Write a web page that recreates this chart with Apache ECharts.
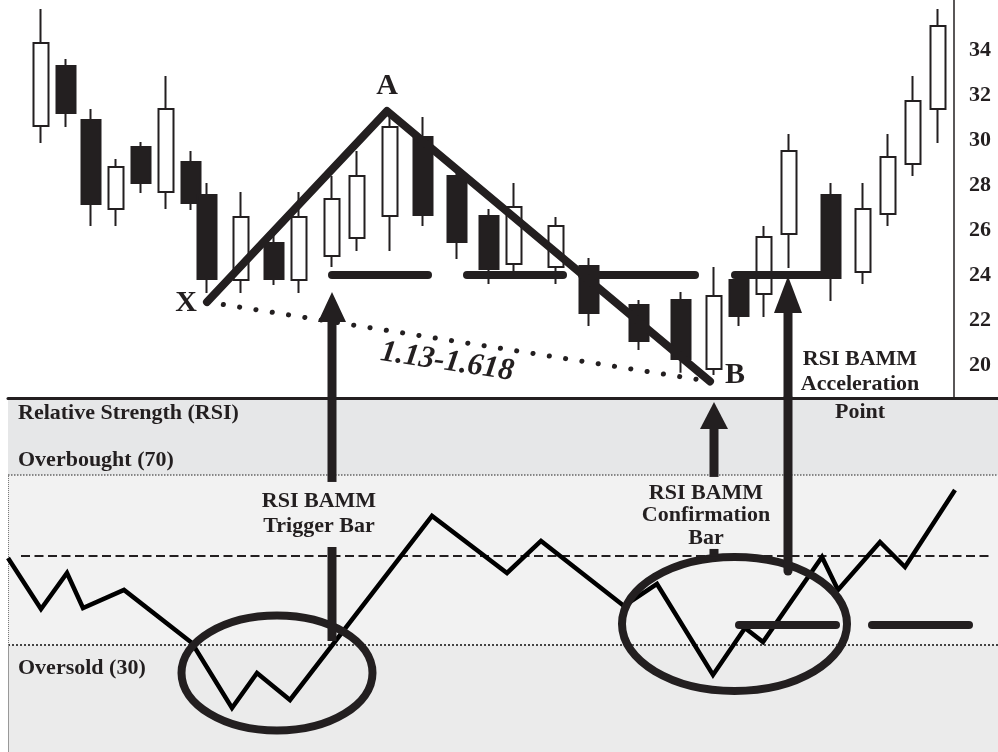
<!DOCTYPE html>
<html><head><meta charset="utf-8">
<script src="https://cdn.jsdelivr.net/npm/echarts@6/dist/echarts.min.js"></script>
<style>html,body{margin:0;padding:0;background:#fff}#c{width:998px;height:752px}</style>
</head><body><div id="c"></div>
<script>
// ---------- price panel data (x = session position) ----------
const candleX     = [1.0,2.0,3.0,4.0,5.0,6.0,7.0,7.64,9.0,10.32,11.32,12.64,13.64,14.96,16.28,17.64,18.92,19.92,21.6,22.92,24.92,26.6,27.92,28.92,29.92,30.92,32.6,33.88,34.88,35.88,36.88];
const candleOpen  = [30.62,33.29,30.89,26.93,29.69,27.69,29.02,27.56,23.78,25.42,23.78,24.84,25.64,26.62,30.13,28.4,26.62,24.49,24.36,24.4,22.67,22.89,19.82,23.78,23.16,25.82,27.56,24.13,26.71,28.93,31.38];
const candleClose = [34.31,31.2,27.16,28.8,28.09,31.38,27.2,23.82,26.58,23.82,26.58,27.38,28.4,30.58,26.67,25.47,24.27,27.02,26.18,22.31,21.07,20.27,23.07,22.18,25.69,29.51,23.87,26.93,29.24,31.73,35.07];
const candleLow   = [29.87,30.58,26.18,26.18,27.64,26.93,26.89,23.2,23.2,23.56,23.2,24.36,25.07,25.07,26.18,24.71,23.6,24.09,23.6,21.73,20.67,19.65,19.56,21.73,22.13,24.31,22.84,23.6,26.18,28.4,29.87];
const candleHigh  = [35.82,33.6,31.38,29.16,29.91,32.84,29.51,28.09,27.69,25.9,27.69,28.4,29.51,31.1,31.02,28.6,26.93,28.09,26.58,24.76,22.89,23.24,24.36,23.9,26.18,30.27,28.09,28.09,30.27,32.84,35.82];
const priceTicks  = [20,22,24,26,28,30,32,34];
const priceMin = 18.533, priceMax = 36.222;

// X-A-B pattern points
const xabNames = ['X','A','B'];
const xabX = [7.64, 14.84, 27.76];
const xabV = [22.8, 31.29, 19.27];

// ---------- RSI panel data ----------
const rsiX = [-0.32,1.0,2.04,2.68,4.32,7.04,8.64,9.64,10.96,16.64,19.64,21.0,24.32,25.64,27.88,29.16,29.88,32.24,32.88,34.56,35.56,37.56];
const rsiV = [50.47,38.47,46.94,38.71,42.94,30.47,15.18,23.41,17.06,60.35,46.94,54.47,39.18,44.35,22.94,34.0,30.71,50.71,42.94,54.24,48.35,66.47];
const rsiMin = 4.82, rsiMax = 88.1;
const overbought = 70, oversold = 30, midLevel = 51;

// ---------- annotations (data coordinates) ----------
const priceBars = [[12.64,24,16.48,24],[18.04,24,21.88,24],[22.64,24,27.16,24],[28.76,24,32.68,24]];
const rsiBars   = [[28.92,34.7,32.8,34.7],[34.24,34.7,38.12,34.7]];
const priceShafts = [[12.64,priceMin,12.64,22.0],[30.88,priceMin,30.88,22.4]];
const priceHeads  = [[12.64,21.91,23.24],[30.88,22.31,23.96]];
const rsiShafts   = [[12.64,rsiMax,12.64,68.35],[12.64,53.06,12.64,30.94],[27.92,69.53,27.92,81.2],[27.92,52.59,27.92,50.71]];
const rsiRoundShafts = [[30.88,rsiMax,30.88,47.4]];
const rsiHeads    = [[27.92,80.82,87.18]];
const ellipses    = [[10.44,23.41,3.82,13.53],[28.74,34.94,4.5,15.76]];

const INK = '#231f20';
const SERIF = '"Liberation Serif","Times New Roman",serif';

const priceTexts = [
  {x:6.8,  y:22.76, text:'X', size:30},
  {x:14.84,y:32.4,  text:'A', size:30},
  {x:28.76,y:19.56, text:'B', size:30},
  {x:17.24,y:20.13, text:'1.13-1.618', size:31, italic:true, rotate:-8.5},
  {x:33.76,y:19.71, text:'RSI BAMM\nAcceleration', size:22, lh:25}
];
const rsiTexts = [
  {x:33.76,y:84.82, text:'Point', size:22},
  {x:12.12,y:60.94, text:'RSI BAMM\nTrigger Bar', size:22, lh:25},
  {x:27.6, y:60.47, text:'RSI BAMM\nConfirmation\nBar', size:22, lh:22.5},
  {x:0.08, y:84.59, text:'Relative Strength (RSI)', size:22, left:true},
  {x:0.08, y:73.53, text:'Overbought (70)', size:22, left:true},
  {x:0.08, y:24.59, text:'Oversold (30)', size:22, left:true}
];

function segSeries(grid, data, width, cap, z) {
  return {type:'custom', xAxisIndex:grid, yAxisIndex:grid, z:z, silent:true, clip:false, data:data,
    renderItem:function(p, api){
      const a = api.coord([api.value(0), api.value(1)]);
      const b = api.coord([api.value(2), api.value(3)]);
      return {type:'line', shape:{x1:a[0],y1:a[1],x2:b[0],y2:b[1]},
        style:{stroke:INK, lineWidth:width, lineCap:cap, fill:null}};
    }};
}
function headSeries(grid, data, z) {
  return {type:'custom', xAxisIndex:grid, yAxisIndex:grid, z:z, silent:true, clip:false, data:data,
    renderItem:function(p, api){
      const b = api.coord([api.value(0), api.value(1)]);
      const t = api.coord([api.value(0), api.value(2)]);
      return {type:'polygon', shape:{points:[[t[0],t[1]],[b[0]-14,b[1]],[b[0]+14,b[1]]]},
        style:{fill:INK, stroke:null}};
    }};
}
function textSeries(grid, items, z) {
  return {type:'custom', xAxisIndex:grid, yAxisIndex:grid, z:z, silent:true, clip:false,
    data: items.map(function(t){ return [t.x, t.y]; }),
    renderItem:function(p, api){
      const t = items[p.dataIndex];
      const c = api.coord([api.value(0), api.value(1)]);
      return {type:'text', x:c[0], y:c[1], rotation:(t.rotate || 0) * Math.PI / 180,
        style:{text:t.text, fill:INK,
          font:(t.italic ? 'italic ' : '') + 'bold ' + t.size + 'px ' + SERIF,
          lineHeight:t.lh || Math.round(t.size*1.15),
          align: t.left ? 'left' : 'center', verticalAlign:'middle'}};
    }};
}

const upData = [], downData = [];
for (let i = 0; i < candleX.length; i++) {
  const row = [candleX[i], candleOpen[i], candleClose[i], candleLow[i], candleHigh[i]];
  (candleClose[i] >= candleOpen[i] ? upData : downData).push(row);
}

const chart = echarts.init(document.getElementById('c'), null, {renderer:'canvas'});
chart.setOption({
  animation:false,
  backgroundColor:'#ffffff',
  grid:[
    {left:16, right:44, top:0, height:398},
    {left:8, right:0, top:398, bottom:0}
  ],
  xAxis:[
    {type:'value', gridIndex:0, min:0, max:37.52, show:false},
    {type:'value', gridIndex:1, min:-0.32, max:39.28, position:'top', z:10,
     axisLine:{show:true, onZero:false, lineStyle:{color:INK, width:3}},
     axisTick:{show:false}, axisLabel:{show:false}, splitLine:{show:false}}
  ],
  yAxis:[
    {type:'value', gridIndex:0, position:'right', min:priceMin, max:priceMax, z:10,
     axisLine:{show:true, onZero:false, lineStyle:{color:INK, width:1.5}},
     axisTick:{show:false}, splitLine:{show:false},
     axisLabel:{customValues:priceTicks, margin:15, fontSize:22, fontWeight:'bold', fontFamily:SERIF, color:INK}},
    {type:'value', gridIndex:1, min:rsiMin, max:rsiMax, show:false}
  ],
  series:[
    {type:'line', xAxisIndex:1, yAxisIndex:1, z:3, silent:true, symbol:'none',
     data: rsiX.map(function(x,i){return [x, rsiV[i]];}),
     lineStyle:{color:'#000', width:4.5, join:'miter'},
     markArea:{silent:true, z:0, data:[
       [{yAxis:overbought, itemStyle:{color:'#e6e7e8'}}, {yAxis:rsiMax}],
       [{yAxis:oversold, itemStyle:{color:'#f2f2f2'}}, {yAxis:overbought}],
       [{yAxis:rsiMin, itemStyle:{color:'#ebebeb'}}, {yAxis:oversold}]
     ]},
     markLine:{silent:true, z:1, symbol:'none', label:{show:false}, data:[
       {yAxis:overbought, lineStyle:{type:'dotted', color:'#666', width:1.5}},
       {yAxis:oversold, lineStyle:{type:'dotted', color:'#444', width:2}},
       [{coord:[0.2, midLevel], lineStyle:{type:[9,4.5], color:INK, width:2}}, {coord:[39.08, midLevel]}],
       [{coord:[-0.3, rsiMin], lineStyle:{type:'solid', color:'#999', width:1}}, {coord:[-0.3, oversold]}],
       [{coord:[-0.3, oversold], lineStyle:{type:'dotted', color:'#777', width:1}}, {coord:[-0.3, overbought]}]
     ]}},
    {type:'custom', xAxisIndex:1, yAxisIndex:1, z:4, silent:true, clip:false, data:ellipses,
     renderItem:function(p, api){
       const c = api.coord([api.value(0), api.value(1)]);
       const e = api.coord([api.value(0)+api.value(2), api.value(1)+api.value(3)]);
       return {type:'ellipse', shape:{cx:c[0], cy:c[1], rx:Math.abs(e[0]-c[0]), ry:Math.abs(e[1]-c[1])},
         style:{fill:'none', stroke:INK, lineWidth:8}};
     }},
    segSeries(1, rsiBars, 8, 'round', 4),
    segSeries(1, rsiShafts, 9, 'butt', 4),
    segSeries(1, rsiRoundShafts, 9, 'round', 4),
    headSeries(1, rsiHeads, 4),
    textSeries(1, rsiTexts, 5),

    {type:'candlestick', xAxisIndex:0, yAxisIndex:0, z:2, silent:true, barWidth:16,
     encode:{x:0, y:[1,2,3,4]}, data:upData,
     itemStyle:{color:'#fff', color0:'#fff', borderColor:INK, borderColor0:INK, borderWidth:2}},
    {type:'candlestick', xAxisIndex:0, yAxisIndex:0, z:2, silent:true, barWidth:19,
     encode:{x:0, y:[1,2,3,4]}, data:downData,
     itemStyle:{color:INK, color0:INK, borderColor:INK, borderColor0:INK, borderWidth:2}},
    {type:'line', xAxisIndex:0, yAxisIndex:0, z:3, silent:true, symbol:'none',
     data:[[xabX[0], xabV[0]],[xabX[2], xabV[2]]],
     lineStyle:{color:INK, width:5, type:[0.1,16.4], cap:'round'}},
    {type:'line', xAxisIndex:0, yAxisIndex:0, z:3, silent:true, symbol:'none',
     data: xabX.map(function(x,i){return [x, xabV[i]];}),
     lineStyle:{color:INK, width:8, cap:'round', join:'round'}},
    segSeries(0, priceBars, 8, 'round', 3),
    segSeries(0, priceShafts, 9, 'butt', 4),
    headSeries(0, priceHeads, 4),
    textSeries(0, priceTexts, 5)
  ]
});
</script></body></html>
